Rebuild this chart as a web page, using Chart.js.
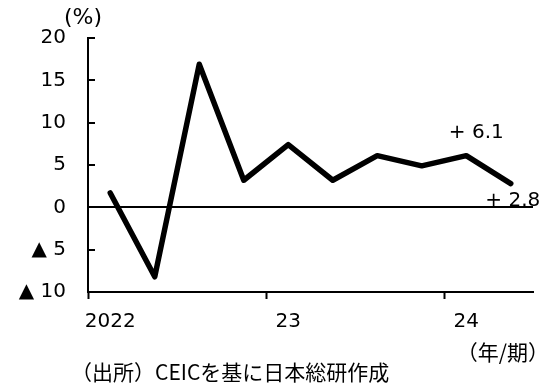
<!DOCTYPE html>
<html>
<head>
<meta charset="utf-8">
<script src="https://cdn.jsdelivr.net/npm/chart.js@4.4.1/dist/chart.umd.min.js"></script>
<style>
  html, body { margin: 0; padding: 0; background: #fff; }
  #wrap { width: 548px; height: 387px; }
</style>
</head>
<body>
<div id="wrap"><canvas id="growthChart"></canvas></div>
<script>
// quarterly series, 2022 Q1 .. 2024 Q2
const quarters = ['2022/1', '2022/2', '2022/3', '2022/4', '2023/1', '2023/2', '2023/3', '2023/4', '2024/1', '2024/2'];
const yearLabels = ['2022', '', '', '', '23', '', '', '', '24', ''];
const growth = [1.7, -8.2, 16.9, 3.2, 7.4, 3.2, 6.1, 4.9, 6.1, 2.8];
const yTicks = [-10, -5, 0, 5, 10, 15, 20];

const FONT = '"DejaVu Sans", Verdana, sans-serif';
const JP_FONT = '"Noto Sans CJK JP", sans-serif';

function fmtValue(v) {
    return (v >= 0 ? '+ ' : '▲ ') + Math.abs(v).toFixed(1);
}

// y axis tick marks point inward, plus the surrounding notes
const extras = {
    id: 'extras',
    afterDatasetsDraw(chart) {
        const ctx = chart.ctx;
        const yScale = chart.scales.y;
        const xScale = chart.scales.x;
        const left = chart.chartArea.left;

        ctx.save();
        ctx.strokeStyle = '#000';
        ctx.lineWidth = 2;
        yTicks.forEach(function(v) {
            const py = Math.round(yScale.getPixelForValue(v));
            ctx.beginPath();
            ctx.moveTo(left, py);
            ctx.lineTo(left + 7, py);
            ctx.stroke();
        });

        // value notes on the last two points
        ctx.fillStyle = '#000';
        ctx.font = '20px ' + FONT;
        ctx.textAlign = 'center';
        ctx.textBaseline = 'middle';
        const n = growth.length;
        ctx.fillText(fmtValue(growth[n - 2]), xScale.getPixelForValue(n - 2) + 10, yScale.getPixelForValue(growth[n - 2]) - 23);
        ctx.fillText(fmtValue(growth[n - 1]), xScale.getPixelForValue(n - 1) + 2, yScale.getPixelForValue(growth[n - 1]) + 17);

        // unit labels and source
        ctx.textAlign = 'left';
        ctx.font = '22px ' + FONT;
        ctx.fillText('(%)', 64, 18);
        ctx.font = '21px ' + JP_FONT;
        ctx.textAlign = 'right';
        ctx.fillText('（年/期）', 549, 352);
        ctx.textAlign = 'left';
        ctx.fillText('（出所）CEICを基に日本総研作成', 71, 372);
        ctx.restore();
    }
};

new Chart(document.getElementById('growthChart'), {
    type: 'line',
    data: {
        labels: quarters,
        datasets: [{
            data: growth,
            borderColor: '#000',
            borderWidth: 5.5,
            borderCapStyle: 'round',
            borderJoinStyle: 'round',
            pointRadius: 0,
            tension: 0,
            fill: false,
        }],
    },
    options: {
        responsive: true,
        maintainAspectRatio: false,
        animation: false,
        events: [],
        layout: { padding: { top: 38, right: 15, left: 0, bottom: 0 } },
        plugins: {
            legend: { display: false },
            tooltip: { enabled: false },
        },
        scales: {
            x: {
                offset: true,
                grid: {
                    offset: true,
                    drawOnChartArea: false,
                    drawTicks: true,
                    tickLength: 7,
                    tickWidth: 2,
                    tickColor: function(c) {
                        return (c.index % 4 === 0 && c.index < quarters.length) ? '#000' : 'rgba(0,0,0,0)';
                    },
                },
                border: { display: true, color: '#000', width: 2 },
                ticks: {
                    autoSkip: false,
                    maxRotation: 0,
                    padding: 11,
                    color: '#000',
                    font: { family: FONT, size: 20 },
                    callback: function(value, index) { return yearLabels[index]; },
                },
                afterFit: function(scale) { scale.height = 95; },
            },
            y: {
                min: -10,
                max: 20,
                ticks: {
                    stepSize: 5,
                    padding: 22,
                    color: '#000',
                    font: { family: FONT, size: 20 },
                    callback: function(v) { return v < 0 ? '▲ ' + (-v) : String(v); },
                },
                grid: {
                    drawTicks: false,
                    lineWidth: 2,
                    color: function(c) { return c.tick && c.tick.value === 0 ? '#000' : 'rgba(0,0,0,0)'; },
                },
                border: { display: true, color: '#000', width: 2 },
                afterFit: function(scale) { scale.width = 88; },
            },
        },
    },
    plugins: [extras],
});
</script>
</body>
</html>
